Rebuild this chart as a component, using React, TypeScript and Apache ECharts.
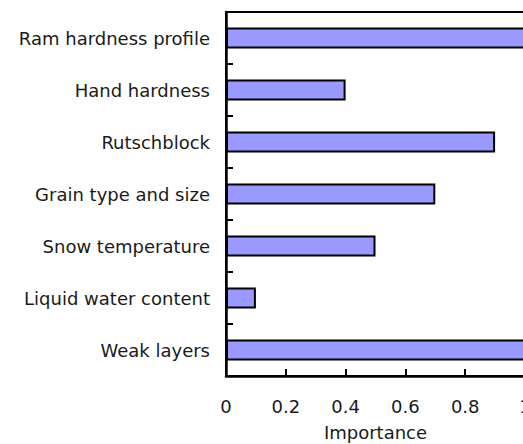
import React, { useEffect, useRef } from "react";
import * as echarts from "echarts";

const categories = [
  "Ram hardness profile",
  "Hand hardness",
  "Rutschblock",
  "Grain type and size",
  "Snow temperature",
  "Liquid water content",
  "Weak layers",
];
const importance = [1.0, 0.4, 0.9, 0.7, 0.5, 0.1, 1.0];
const xTicks = [0, 0.2, 0.4, 0.6, 0.8, 1];

export default function App() {
  const ref = useRef<HTMLDivElement>(null);
  useEffect(() => {
    if (!ref.current) return;
    const chart = echarts.init(ref.current, null, { renderer: "svg" });
    const font = "'DejaVu Sans', sans-serif";
    chart.setOption({
      animation: false,
      grid: {
        left: 226,
        top: 12,
        width: 299,
        height: 364,
        outerBoundsMode: "none",
        containLabel: false,
        show: true,
        borderColor: "#000",
        borderWidth: 2,
        backgroundColor: "transparent",
      },
      xAxis: {
        type: "value",
        min: 0,
        max: 1,
        interval: 0.2,
        name: "Importance",
        nameLocation: "middle",
        nameGap: 47,
        nameTextStyle: { fontFamily: font, fontSize: 18, color: "#1a1a1a" },
        axisLine: { show: true, lineStyle: { color: "#000", width: 2.5 } },
        axisTick: { show: true, inside: true, length: 7, lineStyle: { color: "#000", width: 2 } },
        splitLine: { show: false },
        axisLabel: {
          fontFamily: font,
          fontSize: 18,
          color: "#1a1a1a",
          margin: 21,
          formatter: (v: number) => String(xTicks.find((t) => Math.abs(t - v) < 1e-9) ?? v),
        },
      },
      yAxis: {
        type: "category",
        data: categories,
        inverse: true,
        axisLine: { show: true, lineStyle: { color: "#000", width: 2.5 } },
        axisTick: { show: true, inside: true, length: 7, lineStyle: { color: "#000", width: 2 } },
        axisLabel: { fontFamily: font, fontSize: 18, color: "#1a1a1a", margin: 16 },
        splitLine: { show: false },
      },
      series: [
        {
          type: "bar",
          data: importance,
          barWidth: 21,
          itemStyle: { color: "#9999ff", borderColor: "#000", borderWidth: 2 },
        },
      ],
    });
    return () => chart.dispose();
  }, []);
  return (
    <div
      ref={ref}
      style={{ position: "fixed", left: 0, top: 0, width: 523, height: 444, background: "#fff" }}
    />
  );
}
